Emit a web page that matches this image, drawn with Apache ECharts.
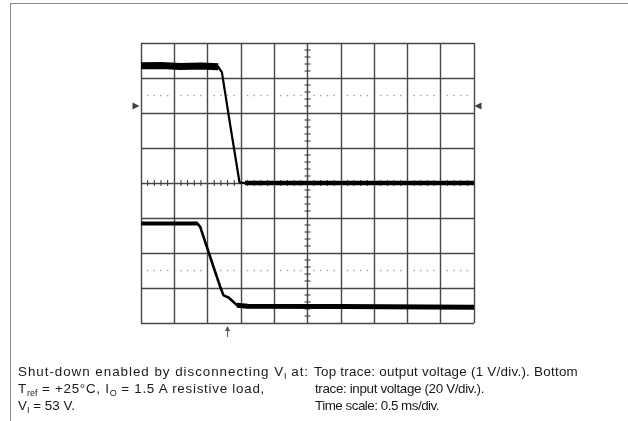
<!DOCTYPE html>
<html>
<head>
<meta charset="utf-8">
<script src="https://cdn.jsdelivr.net/npm/echarts@6/dist/echarts.min.js"></script>
<style>
  html, body { margin:0; padding:0; background:#fff; }
  #wrap { position:relative; width:628px; height:421px; overflow:hidden; }
  #chart { position:absolute; left:0; top:0; width:628px; height:421px; }
  #frame { position:absolute; left:10px; top:3px; width:640px; height:430px; border-left:1.5px solid #8a8a8a; border-top:1.5px solid #8a8a8a; }
  .ln { position:absolute; font-family:"Liberation Sans", Arial, sans-serif; font-size:13.4px; line-height:17px; color:#1a1a1a; white-space:nowrap; }
  .ln sub { font-size:9px; vertical-align:-3px; line-height:0; letter-spacing:0; }
</style>
</head>
<body>
<div id="wrap">
  <div id="frame"></div>
  <div id="chart"></div>
  <div class="ln" data-w="292" style="left:18px; top:363px;">Shut-down enabled by disconnecting V<sub>I</sub> at:</div>
  <div class="ln" data-w="250" style="left:18px; top:380px;">T<sub>ref</sub> = +25°C, I<sub>O</sub> = 1.5 A resistive load,</div>
  <div class="ln" data-w="57" style="left:18px; top:397px;">V<sub>I</sub> = 53 V.</div>
  <div class="ln" data-w="264" style="left:314px; top:363px;">Top trace: output voltage (1 V/div.). Bottom</div>
  <div class="ln" data-w="169" style="left:315px; top:380px;">trace: input voltage (20 V/div.).</div>
  <div class="ln" data-w="124" style="left:315px; top:397px;">Time scale: 0.5 ms/div.</div>
</div>
<script>
// fit each caption line to its measured width with letter spacing
document.querySelectorAll('.ln').forEach(el => {
  const target = +el.dataset.w;
  const natural = el.getBoundingClientRect().width;
  const n = el.textContent.length;
  el.style.letterSpacing = ((target - natural) / n).toFixed(3) + 'px';
});

// time in ms (0.5 ms/div), vertical position in screen divisions
const topTraceT = [0, 0.30, 0.59, 0.90, 1.16, 1.19, 1.215, 1.34, 1.479, 1.56, 3.0, 5.0];
const topTraceV = [3.35, 3.36, 3.33, 3.34, 3.32, 3.30, 3.16, 1.65, 0.02, 0.0, 0.0, 0.0];
const bottomTraceT = [0, 0.45, 0.85, 0.89, 0.99, 1.089, 1.19, 1.239, 1.314, 1.389, 1.44, 1.6, 3.0, 5.0];
const bottomTraceV = [-1.16, -1.16, -1.16, -1.26, -1.83, -2.40, -2.97, -3.21, -3.27, -3.40, -3.49, -3.52, -3.53, -3.55];
const channelLabels = ['1', '3'];
const channelLabelV = [0.28, -3.64];
const triggerLevelV = 2.2;
const triggerTimeT = 1.3;
const dottedLevels = [2.5, -2.5];

const pairs = (ts, vs) => ts.map((t, i) => [t, vs[i]]);
const topData = pairs(topTraceT, topTraceV);
const botData = pairs(bottomTraceT, bottomTraceV);

const chart = echarts.init(document.getElementById('chart'));
const gridColor = '#474747';

function decorations(params, api) {
  const ch = [];
  const tickStyle = { stroke: '#333', lineWidth: 1 };
  for (let i = 1; i < 50; i++) {
    if (i % 5 === 0) continue;
    const p = api.coord([i * 0.1, 0]);
    ch.push({ type: 'line', shape: { x1: p[0], y1: p[1] - 3, x2: p[0], y2: p[1] + 3 }, style: tickStyle });
  }
  for (let j = -20; j <= 20; j++) {
    if (j % 5 === 0) continue;
    const p = api.coord([2.5, j * 0.2]);
    ch.push({ type: 'line', shape: { x1: p[0] - 3, y1: p[1], x2: p[0] + 3, y2: p[1] }, style: tickStyle });
  }
  dottedLevels.forEach(v => {
    for (let i = 1; i < 50; i++) {
      if (i % 5 === 0) continue;
      const p = api.coord([i * 0.1, v]);
      ch.push({ type: 'rect', shape: { x: p[0] - 0.7, y: p[1] - 0.7, width: 1.4, height: 1.4 }, style: { fill: '#a0a0a0' } });
    }
  });
  const a = api.coord([triggerTimeT, -4]);
  ch.push({ type: 'line', shape: { x1: a[0], y1: a[1] + 4, x2: a[0], y2: a[1] + 14 }, style: { stroke: '#555', lineWidth: 1 } });
  ch.push({ type: 'polygon', shape: { points: [[a[0], a[1] + 3], [a[0] - 2.5, a[1] + 8], [a[0] + 2.5, a[1] + 8]] }, style: { fill: '#555' } });
  return { type: 'group', children: ch };
}

chart.setOption({
  animation: false,
  grid: { left: 141, top: 43, width: 333, height: 280, show: false },
  xAxis: {
    type: 'value', min: 0, max: 5, interval: 0.5,
    axisLine: { show: false }, axisTick: { show: false }, axisLabel: { show: false },
    splitLine: { show: true, lineStyle: { color: gridColor, width: 1.4 } }
  },
  yAxis: {
    type: 'value', min: -4, max: 4, interval: 1,
    axisLine: { show: false }, axisTick: { show: false }, axisLabel: { show: false },
    splitLine: { show: true, lineStyle: { color: gridColor, width: 1.4 } }
  },
  series: [
    { type: 'custom', renderItem: decorations, data: [[0, 0]], clip: false, silent: true, z: 1 },
    { type: 'line', data: topData.slice(0, 5), symbol: 'none', lineStyle: { color: '#000', width: 7 }, z: 3 },
    { type: 'line', data: topData.slice(9), symbol: 'none', lineStyle: { color: '#000', width: 4.5 }, z: 3 },
    { type: 'line', data: botData.slice(0, 3), symbol: 'none', lineStyle: { color: '#000', width: 4 }, z: 3 },
    { type: 'line', data: botData.slice(10), symbol: 'none', lineStyle: { color: '#000', width: 5 }, z: 3 },
    { type: 'line', data: topData, symbol: 'none', lineStyle: { color: '#000', width: 2.2 }, z: 4 },
    { type: 'line', data: botData, symbol: 'none', lineStyle: { color: '#000', width: 2.6 }, z: 4 },
    { type: 'scatter', clip: false, symbol: 'none', z: 5,
      data: channelLabels.map((c, i) => ({ value: [5, channelLabelV[i]], name: c })),
      label: { show: true, position: 'right', distance: 2, formatter: p => p.name,
               fontFamily: 'Liberation Sans Narrow, Liberation Sans, Arial', fontSize: 13, color: '#222' } },
    { type: 'scatter', clip: false, z: 5, symbol: 'triangle', symbolSize: [7, 7],
      data: [ { value: [-0.075, triggerLevelV], symbolRotate: -90 }, { value: [5.06, triggerLevelV], symbolRotate: 90 } ],
      itemStyle: { color: '#111' } }
  ]
});
</script>
</body>
</html>
